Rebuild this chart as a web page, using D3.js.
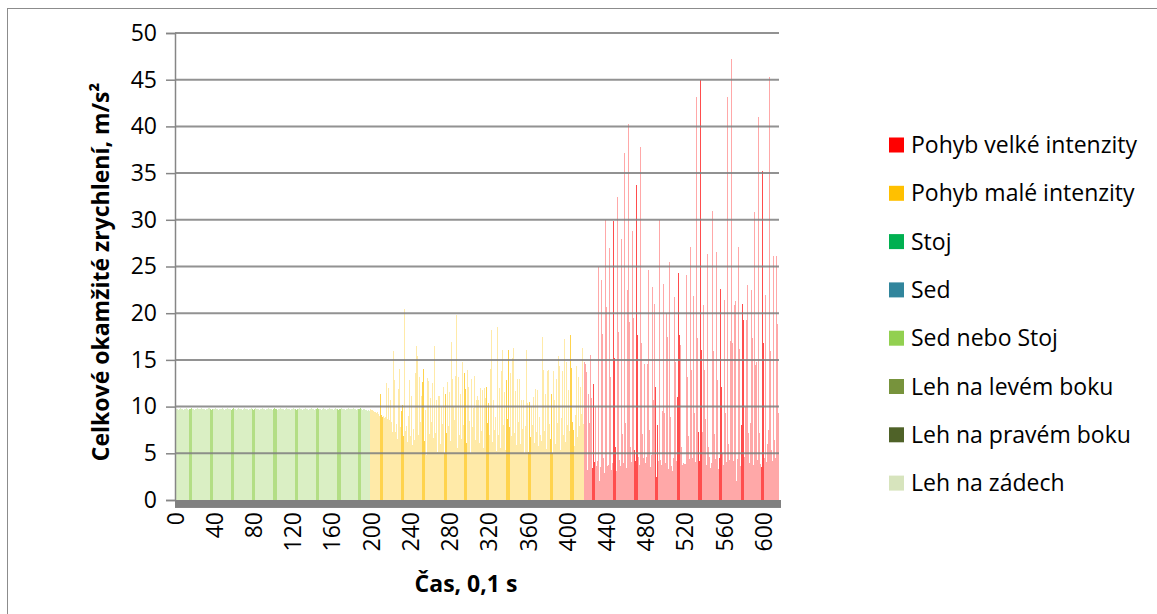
<!DOCTYPE html>
<html>
<head>
<meta charset="utf-8">
<script src="https://cdn.jsdelivr.net/npm/d3@7"></script>
<style>
  body { margin: 0; background: #fff; }
  svg { display: block; font-family: "Open Sans", "Noto Sans", sans-serif; }
</style>
</head>
<body>
<svg id="chart" width="1157" height="614"></svg>
<script>
// --- Data (time index 0..615, step 0,1 s) ---
// Sed nebo Stoj: index 0..198
const sedNeboStoj = [
  9.8,9.7,9.7,9.6,9.7,9.8,9.7,9.7,9.6,9.7,9.7,9.8,9.7,9.6,9.7,9.7,9.8,9.7,9.7,9.6,
  9.7,9.7,9.8,9.7,9.7,9.6,9.7,9.8,9.7,9.7,9.7,9.6,9.7,9.7,9.8,9.8,9.7,9.6,9.7,9.7,
  9.7,9.8,9.7,9.7,9.6,9.7,9.7,9.7,9.8,9.7,9.6,9.7,9.7,9.8,9.7,9.7,9.7,9.6,9.7,9.8,
  9.7,9.7,9.6,9.7,9.8,9.7,9.7,9.7,9.6,9.7,9.8,9.7,9.7,9.7,9.6,9.7,9.7,9.8,9.7,9.7,
  9.6,9.7,9.8,9.7,9.7,9.7,9.6,9.7,9.7,9.8,9.7,9.7,9.6,9.7,9.7,9.8,9.7,9.7,9.7,9.6,
  9.7,9.8,9.7,9.7,9.6,9.7,9.7,9.8,9.7,9.7,9.7,9.6,9.7,9.8,9.7,9.7,9.7,9.6,9.7,9.7,
  9.8,9.7,9.7,9.6,9.7,9.7,9.8,9.7,9.7,9.7,9.6,9.7,9.7,9.8,9.7,9.7,9.6,9.7,9.7,9.8,
  9.7,9.7,9.6,9.7,9.7,9.8,9.7,9.7,9.7,9.6,9.7,9.8,9.7,9.7,9.6,9.7,9.7,9.8,9.7,9.7,
  9.7,9.6,9.7,9.8,9.7,9.7,9.6,9.7,9.7,9.8,9.7,9.7,9.7,9.6,9.7,9.7,9.8,9.7,9.7,9.6,
  9.7,9.7,9.8,9.7,9.7,9.6,9.7,9.7,9.7,9.8,9.7,9.6,9.7,9.7,9.6,9.6,9.5,9.6,9.5
];
// Pohyb malé intenzity: index 199..416
const pohybMaly = [
  9.7,9.6,9.6,9.5,9.4,9.4,9.3,9.4,9.2,9.0,11.4,9.1,8.9,9.0,8.8,8.9,12.5,8.7,12.0,8.6,
  10.7,8.4,7.3,16.0,12.9,7.3,8.1,6.5,11.9,14.0,7.8,9.5,8.6,10.2,6.9,20.4,7.4,7.9,6.2,9.0,
  12.9,6.8,11.1,5.9,7.6,6.4,13.6,16.5,15.4,7.0,13.2,8.3,11.1,12.6,14.0,6.3,9.6,4.8,13.1,12.7,
  7.1,10.9,8.3,12.5,6.6,16.5,7.2,10.7,5.1,11.1,11.1,6.0,10.0,8.1,12.1,5.0,11.4,7.2,12.6,7.9,
  11.6,6.3,16.9,13.0,7.7,10.0,8.6,13.3,19.8,5.6,13.2,7.0,11.4,6.5,14.8,8.0,13.6,11.9,6.1,13.9,
  12.1,8.5,5.0,13.0,7.8,9.9,13.3,6.4,10.7,11.1,10.7,6.1,12.0,7.4,11.8,5.6,12.0,10.9,12.1,8.2,
  10.4,7.0,14.0,18.2,6.2,10.7,7.5,8.9,5.2,18.5,7.0,12.0,5.6,13.8,16.1,6.3,8.0,11.6,5.4,12.9,
  8.7,16.1,7.8,13.6,6.8,15.2,16.3,7.2,11.7,5.9,13.0,8.4,13.0,6.0,10.7,7.6,10.7,5.0,7.9,16.1,
  10.4,5.1,10.5,6.7,10.1,8.0,11.0,6.1,11.9,7.3,11.8,5.8,8.9,7.0,6.3,17.5,13.9,7.4,11.3,5.5,
  13.8,13.9,8.1,6.5,11.3,5.0,13.8,7.1,10.7,6.0,13.0,8.2,15.4,14.3,5.4,8.8,13.8,7.0,17.2,6.2,
  14.8,8.0,11.8,7.4,17.7,14.1,8.3,7.5,5.8,9.1,14.3,6.7,13.2,7.9,12.1,9.2,16.3,8.1
];
// Pohyb velké intenzity: index 417..615
const pohybVelky = [
  14.8,14.6,13.7,3.2,11.4,8.2,15.5,10.9,3.4,12.4,4.1,10.0,3.6,4.2,25.0,2.0,3.5,23.6,17.8,3.0,
  4.5,2.9,30.0,20.7,3.6,3.8,27.0,13.2,3.2,4.0,29.9,15.2,5.7,3.1,32.4,18.0,4.3,3.6,27.9,7.1,
  4.0,37.2,8.2,3.4,22.5,40.3,19.1,5.7,4.1,28.8,19.5,5.3,4.2,33.7,17.7,4.6,3.7,37.8,16.8,7.1,
  4.5,14.6,4.0,4.6,14.6,24.6,7.5,3.5,4.8,22.8,10.7,4.1,21.0,12.1,2.5,8.0,4.2,30.0,4.3,3.8,
  9.5,23.1,9.3,4.0,20.0,17.5,3.3,25.5,8.9,3.6,3.1,4.5,21.7,14.8,4.2,11.0,24.3,17.7,16.6,5.7,
  3.8,4.0,3.9,3.9,24.1,13.2,6.8,4.4,27.1,13.9,4.5,21.8,9.3,4.1,43.2,17.3,7.3,4.2,45.0,16.1,
  7.3,20.9,13.9,4.1,8.7,3.8,26.3,5.7,4.6,3.4,4.0,30.9,16.0,7.1,4.4,26.6,12.8,3.3,4.5,22.6,
  12.1,5.0,3.7,21.4,9.3,4.1,43.1,6.0,4.3,17.0,47.2,16.8,4.2,20.9,21.3,2.0,4.4,27.1,16.2,3.6,
  8.0,21.0,19.3,4.6,10.0,19.3,23.0,7.2,4.0,8.2,22.5,17.3,3.8,7.2,30.8,14.5,14.8,4.3,41.0,7.2,
  3.9,3.5,35.2,16.8,4.5,22.0,4.1,6.0,7.5,45.3,16.0,5.3,4.2,26.1,6.4,4.5,26.1,18.8,9.3
];
const xTickLabels = [0,40,80,120,160,200,240,280,320,360,400,440,480,520,560,600];
const yTicks = [0,5,10,15,20,25,30,35,40,45,50];

const legendNames = ["Pohyb velké intenzity","Pohyb malé intenzity","Stoj","Sed","Sed nebo Stoj",
  "Leh na levém boku","Leh na pravém boku","Leh na zádech"];
const legendColors = ["#ff0000","#ffc000","#00b050","#31859c","#92d050","#77933c","#4f6228","#d7e4bd"];

// rows for drawing: each sample gets value + series colour
const rows = [];
[[sedNeboStoj, "#92d050"], [pohybMaly, "#ffc000"], [pohybVelky, "#ff0000"]].forEach(([arr, col]) => {
  arr.forEach(v => rows.push({ i: rows.length, v: v, color: col }));
});

const svg = d3.select("#chart");

// frame of the chart area
svg.append("rect")
  .attr("x", 7.5).attr("y", 8.5).attr("width", 1300).attr("height", 800)
  .attr("fill", "none").attr("stroke", "#8c8c8c").attr("stroke-width", 1);

// --- scales ---
const x = d3.scaleBand().domain(rows.map(d => d.i)).range([175, 779]).padding(0);
const y = d3.scaleLinear().domain([0, 50]).range([500, 33]);

// --- bars (Excel renders the thin columns lighter, with darker beat stripes) ---
const stripeStart = 190.2, stripeStep = 21.22;
function barFill(d) {
  const cx = x(d.i) + x.bandwidth() / 2;
  const m = (((cx - stripeStart) % stripeStep) + stripeStep) % stripeStep;
  const dist = Math.min(m, stripeStep - m);
  const t = dist < 1.6 ? 0.7 : 0.34;
  return d3.interpolateRgb("#ffffff", d.color)(t);
}

svg.append("g")
  .attr("shape-rendering", "crispEdges")
  .selectAll("rect")
  .data(rows)
  .join("rect")
  .attr("x", d => x(d.i))
  .attr("width", Math.max(1, x.bandwidth()))
  .attr("y", d => y(d.v))
  .attr("height", d => y(0) - y(d.v))
  .attr("fill", barFill);

// --- gridlines on top ---
svg.append("g")
  .selectAll("line")
  .data(yTicks.filter(t => t > 0))
  .join("line")
  .attr("x1", 175).attr("x2", 779)
  .attr("y1", d => y(d)).attr("y2", d => y(d))
  .attr("stroke", "#7f7f7f").attr("stroke-width", 2).attr("opacity", 0.85);

// --- y axis ---
const yAxis = svg.append("g")
  .attr("transform", "translate(175,0)")
  .call(d3.axisLeft(y).tickValues(yTicks).tickSize(9).tickPadding(9));
yAxis.select(".domain").attr("stroke", "#868686").attr("stroke-width", 1.5);
yAxis.selectAll(".tick line").attr("stroke", "#868686").attr("stroke-width", 1.5);
yAxis.selectAll(".tick text")
  .attr("fill", "#000").style("font-size", "23px")
  .style("font-family", "'Open Sans', sans-serif");

// --- x axis (thick grey band + rotated labels) ---
svg.append("rect")
  .attr("x", 175).attr("y", y(0)).attr("width", 606).attr("height", y(-0.85) - y(0))
  .attr("fill", "#808080");

svg.append("g")
  .selectAll("text")
  .data(xTickLabels)
  .join("text")
  .attr("transform", d => `translate(${x(d) + x.bandwidth() / 2},512) rotate(-90)`)
  .attr("text-anchor", "end")
  .attr("dy", "0.35em")
  .style("font-size", "23px")
  .text(d => d);

// --- axis titles ---
svg.append("text")
  .attr("x", 466).attr("y", 592)
  .attr("text-anchor", "middle")
  .style("font-size", "23px").style("font-weight", "bold")
  .text("Čas, 0,1 s");

svg.append("text")
  .attr("transform", "translate(109,272) rotate(-90)")
  .attr("text-anchor", "middle")
  .style("font-size", "23px").style("font-weight", "bold")
  .text("Celkové okamžité zrychlení, m/s²");

// --- legend ---
const legend = svg.append("g");
legendNames.forEach((name, k) => {
  const cy = 145 + k * 48.3;
  legend.append("rect")
    .attr("x", 889).attr("y", cy - 7.5).attr("width", 15).attr("height", 15)
    .attr("fill", legendColors[k]);
  legend.append("text")
    .attr("x", 911).attr("y", cy).attr("dy", "0.35em")
    .style("font-size", "23px")
    .text(name);
});
</script>
</body>
</html>
